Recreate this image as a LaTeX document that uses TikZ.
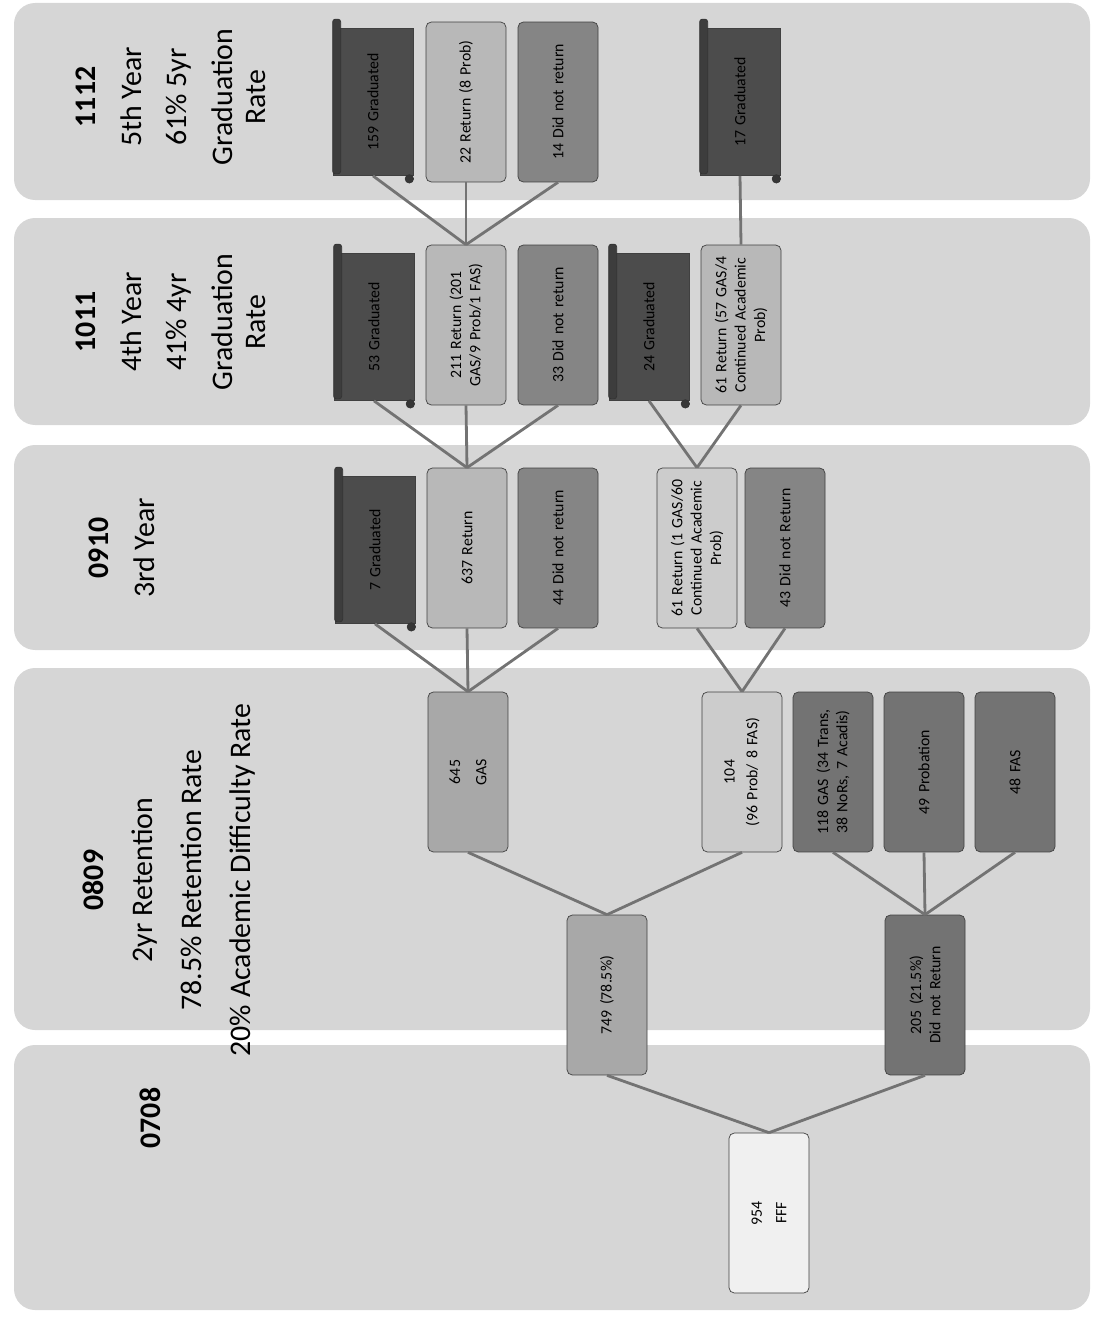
\documentclass[tikz,border=0pt]{standalone}
\usepackage{fontspec}
\setmainfont{Carlito}
\usepackage{tikz}
\usetikzlibrary{positioning,calc}

\definecolor{panelc}{gray}{0.84}
\definecolor{fffc}{gray}{0.94}
\definecolor{retc}{gray}{0.66}
\definecolor{probc}{gray}{0.80}
\definecolor{lostc}{gray}{0.45}
\definecolor{backc}{gray}{0.72}
\definecolor{dnrc}{gray}{0.52}
\definecolor{gradc}{gray}{0.30}

% rolled edge of the graduated boxes
\newcommand\gradroll[1]{%
  \filldraw[fill=gradc!80!black,draw=black!80,rounded corners=1.5pt]
    ($(#1.north east)+(0,-9)$) rectangle ($(#1.north west)+(8,-2)$);
  \filldraw[fill=gradc!70!black,draw=black!80] ($(#1.south west)+(-4,3)$) circle (2.4pt);
}

\begin{document}
\begin{tikzpicture}[x=0.02cm,y=-0.02cm,
  panel/.style={fill=panelc,rounded corners=12pt},
  hdr/.style={rotate=90,align=center,font=\fontsize{17}{19}\selectfont},
  box/.style={rotate=90,draw=black!75,rounded corners=3pt,minimum width=3.2cm,
    minimum height=1.6cm,text width=2.8cm,align=center,inner sep=2pt,
    font=\fontsize{9}{11}\selectfont},
  grad/.style={box,fill=gradc,rounded corners=0pt,minimum width=2.85cm},
  link/.style={draw=black!55,line width=1.6pt}]
  \useasboundingbox (0,0) rectangle (1095,1318);
  % year bands
  \fill[panel] (14,3) rectangle (1090,200);
  \fill[panel] (14,218) rectangle (1090,425);
  \fill[panel] (14,445) rectangle (1090,650);
  \fill[panel] (14,668) rectangle (1090,1030);
  \fill[panel] (14,1045) rectangle (1090,1310);
  % headers
  \node[hdr] (h5) at (171,97) {\textbf{1112}\\[7pt]5th Year\\[7pt]61\% 5yr\\[7pt]Graduation\\Rate};
  \node[hdr] (h4) at (171,322) {\textbf{1011}\\[7pt]4th Year\\[7pt]41\% 4yr\\[7pt]Graduation\\Rate};
  \node[hdr] (h3) at (122,548) {\textbf{0910}\\[7pt]3rd Year};
  \node[hdr] (h2) at (169,880) {\textbf{0809}\\[9pt]2yr Retention\\[9pt]78.5\% Retention Rate\\[9pt]20\% Academic Difficulty Rate};
  \node[hdr] (h1) at (150,1118) {\textbf{0708}};
  % 0708
  \node[box,fill=fffc] (fff) at (769,1213) {954\\[3pt]FFF};
  % 0809
  \node[box,fill=retc] (ret) at (607,995) {749 (78.5\%)};
  \node[box,fill=lostc] (dnr) at (925,995) {205 (21.5\%)\\Did not Return};
  \node[box,fill=retc] (gas) at (468,772) {645\\[4pt]GAS};
  \node[box,fill=probc] (prob) at (742,772) {104\\[2pt](96 Prob/ 8 FAS)};
  \node[box,fill=lostc] (trans) at (833,772) {118 GAS (34 Trans,\\38 NoRs, 7 Acadis)};
  \node[box,fill=lostc] (probn) at (924,772) {49 Probation};
  \node[box,fill=lostc] (fas) at (1015,772) {48 FAS};
  % 0910
  \node[grad] (grad3) at (375,550) {7 Graduated};
  \node[box,fill=backc] (ret3) at (467,548) {637 Return};
  \node[box,fill=dnrc] (dnr3) at (558,548) {44 Did not return};
  \node[box,fill=probc] (ret3b) at (697,548) {61 Return (1 GAS/60\\Continued Academic\\Prob)};
  \node[box,fill=dnrc] (dnr3b) at (785,548) {43 Did not Return};
  % 1011
  \node[grad] (grad4) at (374,327) {53 Graduated};
  \node[box,fill=backc] (ret4) at (466,325) {211 Return (201\\GAS/9 Prob/1 FAS)};
  \node[box,fill=dnrc] (dnr4) at (558,325) {33 Did not return};
  \node[grad] (grad4b) at (649,327) {24 Graduated};
  \node[box,fill=backc] (ret4b) at (741,325) {61 Return (57 GAS/4\\Continued Academic\\Prob)};
  % 1112
  \node[grad] (grad5) at (373,102) {159 Graduated};
  \node[box,fill=backc] (ret5) at (466,102) {22 Return (8 Prob)};
  \node[box,fill=dnrc] (dnr5) at (558,102) {14 Did not return};
  \node[grad] (grad5b) at (740,102) {17 Graduated};
  \foreach \g in {grad3,grad4,grad4b,grad5,grad5b}{\gradroll{\g}}
  % links
  \draw[link] (fff.east) -- (ret.west);
  \draw[link] (fff.east) -- (dnr.west);
  \draw[link] (ret.east) -- (gas.west);
  \draw[link] (ret.east) -- (prob.west);
  \foreach \n in {trans,probn,fas}{\draw[link] (dnr.east) -- (\n.west);}
  \foreach \n in {grad3,ret3,dnr3}{\draw[link] (gas.east) -- (\n.west);}
  \foreach \n in {ret3b,dnr3b}{\draw[link] (prob.east) -- (\n.west);}
  \foreach \n in {grad4,ret4,dnr4}{\draw[link] (ret3.east) -- (\n.west);}
  \foreach \n in {grad4b,ret4b}{\draw[link] (ret3b.east) -- (\n.west);}
  \foreach \n in {grad5,ret5,dnr5}{\draw[link] (ret4.east) -- (\n.west);}
  \draw[link] (ret4b.east) -- (grad5b.west);
\end{tikzpicture}
\end{document}
